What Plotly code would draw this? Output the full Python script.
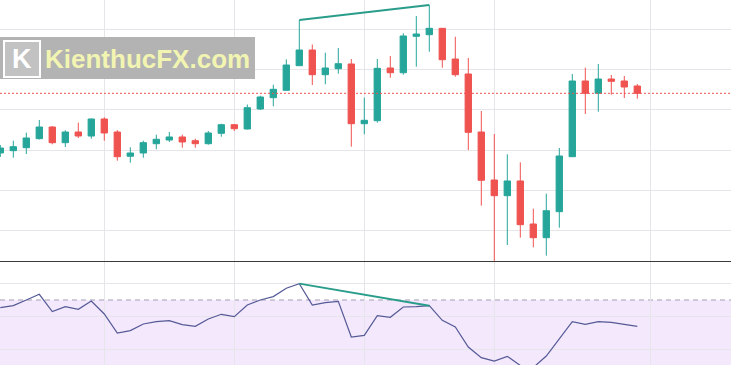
import plotly.graph_objects as go

# ---- data ----
idx = list(range(50))
opens = [119.31, 119.88, 120.62, 122.85, 125.74, 121.86, 124.50, 123.51, 127.72, 124.50,
         118.49, 119.31, 121.61, 122.52, 123.27, 122.35, 121.61, 124.18, 126.31, 125.25,
         130.20, 133.00, 134.83, 140.92, 144.80, 138.69, 140.17, 141.34, 126.56, 127.30,
         140.35, 139.18, 148.19, 148.59, 150.17, 142.57, 138.86, 124.50, 112.62, 108.74,
         112.38, 101.73, 98.34, 104.78, 118.39, 137.13, 134.08, 137.62, 137.13, 135.89]
highs = [121.29, 122.35, 124.33, 127.48, 125.99, 124.93, 126.81, 127.85, 128.14, 125.00,
         120.72, 122.35, 123.84, 124.50, 123.84, 122.85, 124.75, 126.56, 126.43, 131.31,
         133.49, 136.21, 142.50, 152.23, 146.16, 144.13, 145.30, 142.57, 133.00, 142.57,
         143.32, 148.94, 153.22, 155.94, 150.25, 148.09, 142.82, 129.70, 124.01, 118.99,
         117.00, 105.52, 109.23, 120.54, 138.86, 140.42, 141.34, 138.61, 138.37, 136.39]
lows = [118.32, 118.14, 119.06, 122.65, 121.46, 120.79, 123.02, 122.85, 122.35, 117.40,
        116.91, 118.14, 120.22, 122.03, 120.62, 120.62, 121.36, 123.34, 124.75, 125.12,
        129.95, 130.87, 134.70, 140.84, 136.14, 136.31, 138.94, 120.87, 123.94, 126.81,
        137.95, 138.69, 140.67, 144.38, 140.42, 138.19, 120.05, 106.26, 92.60, 96.53,
        98.34, 95.97, 93.89, 100.82, 118.32, 128.96, 129.53, 133.74, 132.92, 132.75]
closes = [120.54, 120.87, 123.02, 125.74, 121.86, 124.50, 123.51, 127.72, 124.26, 118.39,
          119.31, 121.86, 122.70, 123.27, 122.03, 121.61, 124.26, 126.31, 125.32, 130.52,
          133.17, 135.07, 141.09, 144.80, 138.69, 140.35, 141.41, 126.56, 127.40, 140.27,
          139.18, 148.27, 148.76, 150.17, 142.40, 138.69, 124.43, 112.55, 108.74, 112.38,
          101.56, 98.34, 105.02, 118.56, 137.13, 134.08, 137.62, 137.05, 135.64, 134.08]
rsi = [65.4, 66.6, 70.0, 73.4, 63.0, 66.0, 64.4, 69.4, 61.6, 50.2,
       51.6, 55.6, 57.0, 57.6, 55.2, 54.2, 58.6, 61.4, 60.0, 67.0,
       70.0, 72.0, 77.0, 79.8, 67.0, 68.4, 69.2, 47.8, 48.8, 60.6,
       59.6, 65.8, 66.0, 66.6, 57.8, 53.8, 41.8, 35.4, 33.4, 36.2,
       30.7, 29.5, 36.4, 47.0, 57.0, 55.4, 57.0, 56.6, 55.6, 54.2]
div_start, div_end = 23, 33          # divergence anchor candles
time_grid = [8, 18, 28, 38, 50]      # vertical time grid positions
rsi_upper, rsi_lower = 70, 30
watermark = "KienthucFX.com"

UP, DOWN = "#26a69a", "#ef5350"
GRID = "#e6e6ea"
W, H = 731, 365

def py(px):  # pixel row -> paper y
    return 1 - px / H

fig = go.Figure()
fig.add_trace(go.Candlestick(
    x=idx, open=opens, high=highs, low=lows, close=closes,
    increasing=dict(line=dict(color=UP, width=1), fillcolor=UP),
    decreasing=dict(line=dict(color=DOWN, width=1), fillcolor=DOWN),
    whiskerwidth=0, xaxis="x", yaxis="y", showlegend=False, hoverinfo="skip"))
fig.add_trace(go.Scatter(
    x=idx, y=rsi, mode="lines", line=dict(color="#555a96", width=1.2),
    xaxis="x", yaxis="y2", showlegend=False, hoverinfo="skip"))
# divergence lines
fig.add_trace(go.Scatter(
    x=[div_start, div_end], y=[highs[div_start], highs[div_end]], mode="lines",
    line=dict(color="#2a9d8a", width=2), xaxis="x", yaxis="y", showlegend=False, hoverinfo="skip"))
fig.add_trace(go.Scatter(
    x=[div_start, div_end], y=[rsi[div_start], rsi[div_end]], mode="lines",
    line=dict(color="#2a9d8a", width=2), xaxis="x", yaxis="y2", showlegend=False, hoverinfo="skip"))

shapes = [
    # RSI band
    dict(type="rect", xref="paper", yref="y2", x0=0, x1=1, y0=rsi_lower, y1=rsi_upper,
         fillcolor="#f3e8fc", line=dict(width=0), layer="below"),
    dict(type="line", xref="paper", yref="y2", x0=0, x1=1, y0=rsi_upper, y1=rsi_upper,
         line=dict(color="rgba(130,125,150,0.7)", width=1, dash="5px,4px"), layer="below"),
    # last price line
    dict(type="line", xref="paper", yref="y", x0=0, x1=1, y0=closes[-1], y1=closes[-1],
         line=dict(color=DOWN, width=1, dash="2px,2px")),
    # pane separator
    dict(type="line", xref="paper", yref="paper", x0=0, x1=1, y0=py(261.5), y1=py(261.5),
         line=dict(color="#3a3a3a", width=1.2)),
    # watermark
    dict(type="rect", xref="paper", yref="paper", x0=0, x1=255 / W, y0=py(79), y1=py(37),
         fillcolor="#b3b3b3", line=dict(width=0), layer="above"),
    dict(type="rect", xref="paper", yref="paper", x0=4 / W, x1=40 / W, y0=py(77), y1=py(41),
         fillcolor="#c2c2c2", line=dict(color="white", width=2), layer="above"),
]

annotations = [
    dict(text="<b>K</b>", xref="paper", yref="paper", x=22 / W, y=py(59),
         xanchor="center", yanchor="middle", showarrow=False,
         font=dict(family="Liberation Sans, Arial", size=27, color="white")),
    dict(text="<b>" + watermark + "</b>", xref="paper", yref="paper", x=147 / W, y=py(59),
         xanchor="center", yanchor="middle", showarrow=False,
         font=dict(family="Liberation Sans, Arial", size=26, color="#f2f5b2")),
]

fig.update_layout(
    width=W, height=H, margin=dict(l=0, r=0, t=0, b=0),
    paper_bgcolor="white", plot_bgcolor="white",
    shapes=shapes, annotations=annotations,
    xaxis=dict(range=[-0.023, 56.208], showticklabels=False, ticks="", tickvals=time_grid,
               showgrid=True, gridcolor=GRID, gridwidth=1, zeroline=False,
               rangeslider=dict(visible=False), anchor="y2", fixedrange=True),
    yaxis=dict(domain=[py(261), 1], range=[92.57, 157.18], tick0=0, dtick=10,
               showticklabels=False, ticks="", showgrid=True, gridcolor=GRID,
               zeroline=False, anchor="x"),
    yaxis2=dict(domain=[0, py(262)], range=[31.0, 92.77], tick0=0, dtick=20,
                showticklabels=False, ticks="", showgrid=True, gridcolor=GRID,
                zeroline=False, anchor="x"),
)

fig.write_html("out.html")
